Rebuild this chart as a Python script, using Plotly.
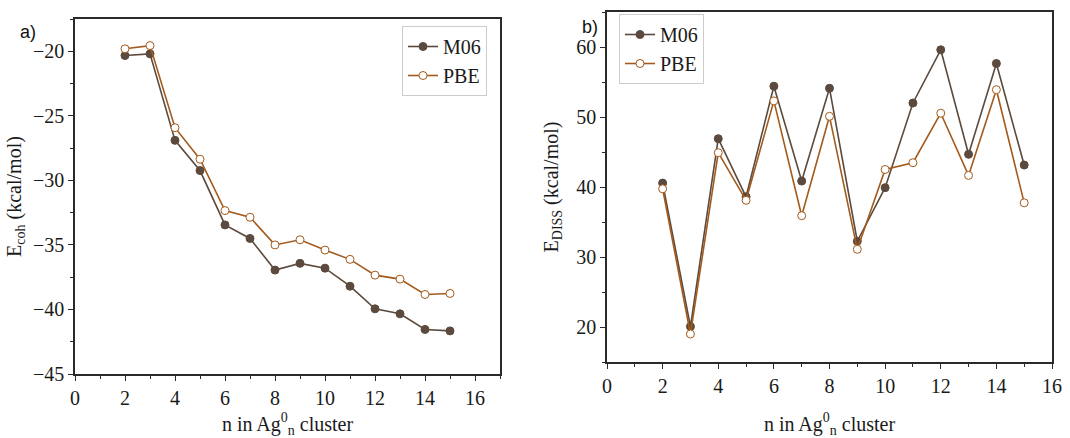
import plotly.graph_objects as go
from plotly.subplots import make_subplots

n = list(range(2, 16))
ecoh_m06 = [-20.33, -20.2, -26.9, -29.24, -33.45, -34.5, -36.95, -36.43, -36.8, -38.2, -39.95, -40.34, -41.55, -41.66]
ecoh_pbe = [-19.81, -19.56, -25.92, -28.36, -32.34, -32.86, -35.0, -34.6, -35.4, -36.12, -37.34, -37.65, -38.84, -38.76]
ediss_m06 = [40.56, 20.07, 46.9, 38.6, 54.4, 40.85, 54.1, 32.25, 39.9, 52.0, 59.6, 44.67, 57.65, 43.14]
ediss_pbe = [39.74, 19.0, 44.9, 38.1, 52.3, 35.9, 50.1, 31.1, 42.5, 43.47, 50.54, 41.66, 53.9, 37.74]

C_M06 = "#5b4a3d"
C_PBE = "#a35a1c"
SERIF = "Times New Roman, Liberation Serif, Tinos, serif"
SANS = "Arial, Liberation Sans, sans-serif"
W, H = 1070, 438

fig = make_subplots(rows=1, cols=2)

def add(col, ym, yp):
    leg = "legend" if col == 1 else "legend2"
    fig.add_trace(go.Scatter(x=n, y=ym, mode="lines+markers", name="M06",
                             line=dict(color=C_M06, width=1.6),
                             marker=dict(color=C_M06, size=8, line=dict(color=C_M06, width=1)),
                             legend=leg), row=1, col=col)
    fig.add_trace(go.Scatter(x=n, y=yp, mode="lines+markers", name="PBE",
                             line=dict(color=C_PBE, width=1.6),
                             marker=dict(color="white", size=8, line=dict(color=C_PBE, width=1)),
                             legend=leg), row=1, col=col)

add(1, ecoh_m06, ecoh_pbe)
add(2, ediss_m06, ediss_pbe)

axcommon = dict(showline=True, mirror=True, linecolor="#2a2a2a", linewidth=1.5,
                ticks="outside", ticklen=5, tickwidth=1.2, tickcolor="#2a2a2a",
                showgrid=False, zeroline=False,
                tickfont=dict(family=SERIF, size=20, color="#1a1a1a"),
                automargin=False)
tfont = dict(family=SERIF, size=20, color="#1a1a1a")

# left panel frame: x 75-500, y 19-374
fig.update_xaxes(axcommon, domain=[75 / W, 500 / W], range=[0, 17], dtick=2, tick0=0,
                 minor=dict(ticks="outside", ticklen=3, dtick=1, tick0=0, tickcolor="#2a2a2a"),
                 title=dict(text="n in Ag<sup>0</sup><sub>n</sub> cluster", font=tfont, standoff=23),
                 row=1, col=1)
fig.update_yaxes(axcommon, domain=[1 - 374 / H, 1 - 19 / H], range=[-45, -17.5], dtick=5,
                 minor=dict(ticks="outside", ticklen=3, dtick=2.5, tick0=0, tickcolor="#2a2a2a"),
                 title=dict(text="E<sub>coh</sub> (kcal/mol)", font=tfont, standoff=6),
                 row=1, col=1)
# right panel frame: x 607-1052, y 12-362
fig.update_xaxes(axcommon, domain=[607 / W, 1052 / W], range=[0, 16], dtick=2, tick0=0,
                 minor=dict(ticks="outside", ticklen=3, dtick=1, tick0=0, tickcolor="#2a2a2a"),
                 title=dict(text="n in Ag<sup>0</sup><sub>n</sub> cluster", font=tfont, standoff=21),
                 row=1, col=2)
fig.update_yaxes(axcommon, domain=[1 - 362 / H, 1 - 12 / H], range=[15, 65], dtick=10, tick0=0,
                 minor=dict(ticks="outside", ticklen=3, dtick=5, tick0=0, tickcolor="#2a2a2a"),
                 title=dict(text="E<sub>DISS</sub> (kcal/mol)", font=tfont, standoff=12),
                 row=1, col=2)

legstyle = dict(bgcolor="white", bordercolor="#cccccc", borderwidth=1,
                font=dict(family=SERIF, size=20, color="#1a1a1a"),
                tracegroupgap=0)
fig.update_layout(
    width=W, height=H, margin=dict(l=0, r=0, t=0, b=0),
    paper_bgcolor="white", plot_bgcolor="white",
    font=dict(family=SERIF),
    showlegend=True,
    legend=dict(legstyle, x=402 / W, y=1 - 26 / H, xanchor="left", yanchor="top"),
    legend2=dict(legstyle, x=619 / W, y=1 - 14 / H, xanchor="left", yanchor="top"),
    annotations=[
        dict(text="a)", x=18 / W, y=1 - 32 / H, xref="paper", yref="paper", showarrow=False,
             xanchor="left", yanchor="middle",
             font=dict(family=SANS, size=18, color="#111111")),
        dict(text="b)", x=580 / W, y=1 - 27 / H, xref="paper", yref="paper", showarrow=False,
             xanchor="left", yanchor="middle",
             font=dict(family=SANS, size=18, color="#111111")),
    ],
)

fig.write_html("out.html", config={"displayModeBar": False},
               post_script="document.body.style.margin='0';document.body.style.overflow='hidden';")
